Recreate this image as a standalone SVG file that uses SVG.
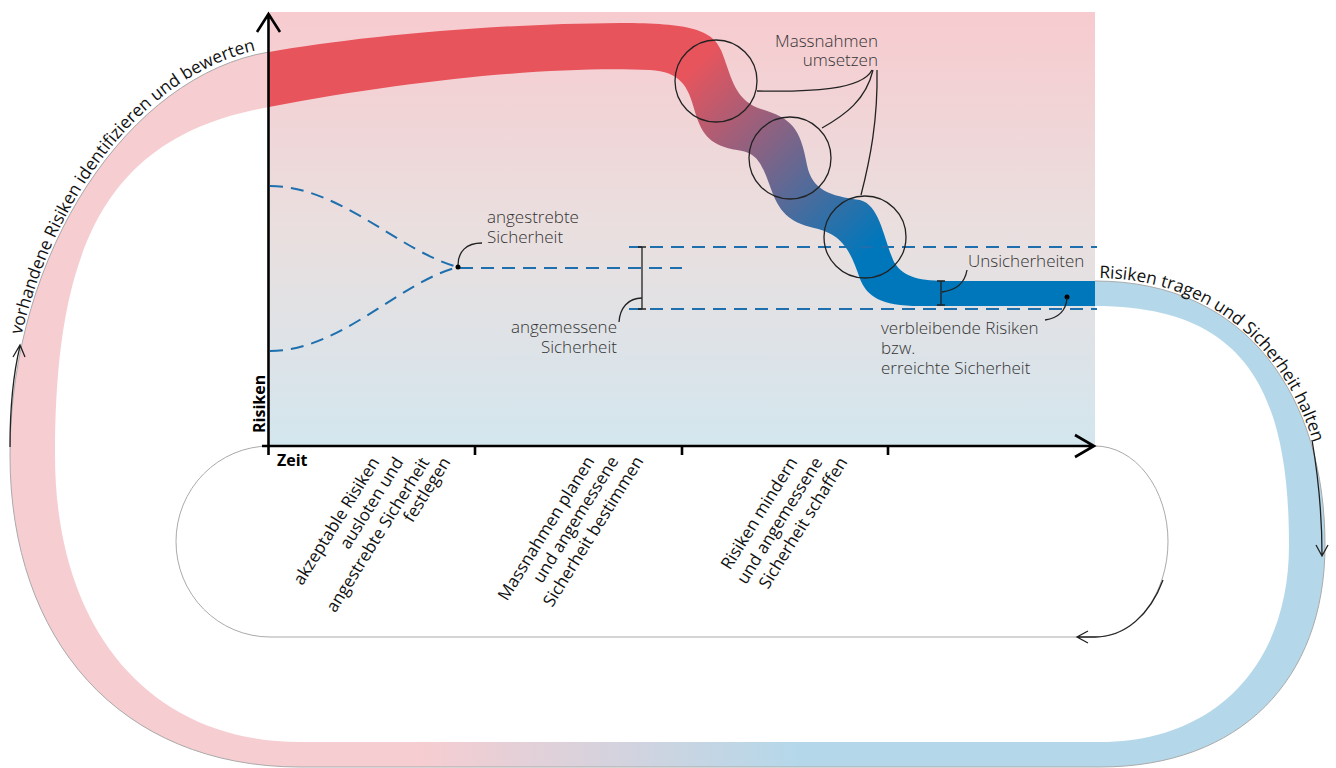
<svg xmlns="http://www.w3.org/2000/svg" width="1336" height="768" viewBox="0 0 1336 768">
<defs>
<linearGradient id="bg" x1="0" y1="12" x2="0" y2="446" gradientUnits="userSpaceOnUse">
<stop offset="0" stop-color="#f7cbcf"/>
<stop offset="0.5" stop-color="#eadfdf"/>
<stop offset="1" stop-color="#d3e6ee"/>
</linearGradient>
<linearGradient id="loopg" x1="420" y1="0" x2="800" y2="0" gradientUnits="userSpaceOnUse">
<stop offset="0" stop-color="#f6cdd1"/>
<stop offset="1" stop-color="#b4d8ea"/>
</linearGradient>
<linearGradient id="wave" x1="690" y1="70" x2="870" y2="250" gradientUnits="userSpaceOnUse">
<stop offset="0" stop-color="#e8545c"/>
<stop offset="1" stop-color="#0077bb"/>
</linearGradient>
<style>
.dash{fill:none;stroke:#1d6fae;stroke-width:2;stroke-dasharray:13 8}
.thin{fill:none;stroke:#222;stroke-width:1.3}
.axis{fill:none;stroke:#000;stroke-width:2.6}
.call{font-family:"Open Sans","Liberation Sans",sans-serif;font-weight:300;font-size:17px;fill:#333}
.tick{font-family:"Open Sans","Liberation Sans",sans-serif;font-size:17px;fill:#111}
.loopt{font-family:"Open Sans","Liberation Sans",sans-serif;font-size:17.3px;fill:#111}
.bold{font-family:"Open Sans","Liberation Sans",sans-serif;font-weight:bold;font-size:16px;fill:#000}
</style>
<path id="tpL" d="M6,470 C6,247 128,71 268,48"/>
<path id="tpR" d="M1095,278 C1248,278 1328,400 1328,545"/>
</defs>

<g id="loop">
<path d="M269,52 C130,75 10,250 10,455 C10,640 120,767 300,767 L1100,767 C1240,767 1325,680 1325,545 C1325,400 1250,281 1095,281 L1095,306 C1245,306 1289,390 1289,545 C1289,665 1215,742 1100,742 L300,742 C150,742 55,630 55,455 C55,240 110,135 269,107 Z" fill="url(#loopg)"/>
<path d="M269,52 C130,75 10,250 10,455 C10,640 120,767 300,767 L1100,767 C1240,767 1325,680 1325,545 C1325,400 1250,281 1095,281" fill="none" stroke="#aaa" stroke-width="1"/>
<text class="loopt"><textPath href="#tpL" startOffset="136">vorhandene Risiken identifizieren und bewerten</textPath></text>
<text class="loopt"><textPath href="#tpR" startOffset="4">Risiken tragen und Sicherheit halten</textPath></text>
</g>

<g id="chart">
<rect x="270" y="12" width="825" height="434" fill="url(#bg)"/>
<path d="M269,52 C350,38 480,24 620,23 C690,23 712,30 721,50 C731,74 733,98 758,108 C790,118 800,125 807,165 C812,190 830,196 860,200 C880,205 884,240 894,262 C904,278 920,281 950,281 L1095,281 L1095,306 L920,306 C880,306 867,296 860,279 C849,246 840,234 814,228 C788,222 779,211 771,189 C761,161 757,153 737,150 C712,146 702,136 695,112 C688,85 680,72 650,70 C560,66 420,78 269,107 Z" fill="url(#wave)"/>
</g>

<g id="connectors">
<path class="dash" d="M270,186 C340,186 400,252 458,267"/>
<path class="dash" d="M270,351 C340,351 400,282 458,267"/>
<path class="dash" d="M460,268 L682,268"/>
<path class="dash" d="M629,247 L1097,247"/>
<path class="dash" d="M629,309 L1097,309"/>
<circle cx="716" cy="81" r="41" class="thin"/>
<circle cx="790" cy="158" r="41" class="thin"/>
<circle cx="865" cy="237" r="41" class="thin"/>
<path class="thin" d="M872,70 C862,90 810,92 757,91"/>
<path class="thin" d="M873,70 C866,100 845,115 822,128"/>
<path class="thin" d="M877,70 C878,120 870,160 861,195"/>
<path class="thin" d="M482,243 C466,243 458,252 458,265"/>
<circle cx="458" cy="267" r="2.5" fill="#000"/>
<path class="thin" d="M642,247 L642,309 M638,247 L646,247 M638,309 L646,309"/>
<path class="thin" d="M642,298 C628,298 620,308 619,322"/>
<path class="thin" d="M941,281 L941,305 M937,281 L945,281 M937,305 L945,305"/>
<path class="thin" d="M942,292 C958,290 965,282 967,270"/>
<circle cx="1067" cy="297" r="2.5" fill="#000"/>
<path class="thin" d="M1067,298 C1066,312 1058,318 1045,320"/>
<path d="M270,446 A94,95.5 0 0 0 270,637 L1095,637 A73,95.5 0 0 0 1095,446" fill="none" stroke="#aaa" stroke-width="1"/>
<path class="thin" d="M1163,580 C1150,615 1125,637 1095,637 L1078,637 M1088,631 L1077,637 L1088,643"/>
<path class="thin" d="M10,447 C10,410 13,375 20,346 M13,357 L20,345 L25,357"/>
<path class="thin" d="M1312,440 C1318,475 1322,515 1322,555 M1316,545 L1322,556 L1328,545"/>
</g>

<g id="axes">
<path class="axis" d="M268.5,455 L268.5,14 M257,32 L268.5,14 L280,32"/>
<path class="axis" d="M262,446 L1093,446 M1075,435 L1094,446 L1075,457"/>
<path class="axis" d="M475,446 L475,455 M682,446 L682,455 M888,446 L888,455" stroke-width="2"/>
<text class="bold" transform="translate(265,433) rotate(-90)">Risiken</text>
<text class="bold" x="277" y="466">Zeit</text>
</g>

<g id="labels">
<text class="call" x="878" y="47" text-anchor="end">Massnahmen</text>
<text class="call" x="878" y="66" text-anchor="end">umsetzen</text>
<text class="call" x="487" y="223">angestrebte</text>
<text class="call" x="487" y="243">Sicherheit</text>
<text class="call" x="617" y="333" text-anchor="end">angemessene</text>
<text class="call" x="617" y="353" text-anchor="end">Sicherheit</text>
<text class="call" x="968" y="267">Unsicherheiten</text>
<text class="call" x="881" y="334">verbleibende Risiken</text>
<text class="call" x="881" y="354">bzw.</text>
<text class="call" x="881" y="374">erreichte Sicherheit</text>
</g>

<g id="phase1">
<text class="tick" text-anchor="end" transform="translate(380,462) rotate(-58)">akzeptable Risiken</text>
<text class="tick" text-anchor="end" transform="translate(404,462) rotate(-58)">ausloten und</text>
<text class="tick" text-anchor="end" transform="translate(430,462) rotate(-58)">angestrebte Sicherheit</text>
<text class="tick" text-anchor="end" transform="translate(451,462) rotate(-58)">festlegen</text>
</g>
<g id="phase2">
<text class="tick" text-anchor="end" transform="translate(595,461) rotate(-58)">Massnahmen planen</text>
<text class="tick" text-anchor="end" transform="translate(619,461) rotate(-58)">und angemessene</text>
<text class="tick" text-anchor="end" transform="translate(644,461) rotate(-58)">Sicherheit bestimmen</text>
</g>
<g id="phase3">
<text class="tick" text-anchor="end" transform="translate(798,462) rotate(-58)">Risiken mindern</text>
<text class="tick" text-anchor="end" transform="translate(823,462) rotate(-58)">und angemessene</text>
<text class="tick" text-anchor="end" transform="translate(848,462) rotate(-58)">Sicherheit schaffen</text>
</g>
</svg>
